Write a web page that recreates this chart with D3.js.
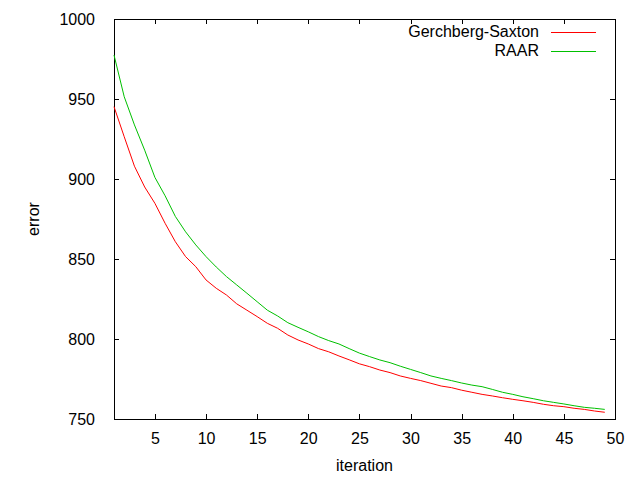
<!DOCTYPE html>
<html>
<head>
<meta charset="utf-8">
<script src="https://cdn.jsdelivr.net/npm/d3@7"></script>
<style>
  html, body { margin: 0; padding: 0; background: #fff; }
  text { font-family: "Liberation Sans", Arial, sans-serif; font-size: 16px; fill: #000; }
</style>
</head>
<body>
<svg id="chart" width="640" height="480"></svg>
<script>
const iterations = d3.range(1, 50);
const gerchbergSaxton = [945.2, 926.4, 908.0, 895.0, 884.8, 872.3, 860.8, 851.5, 845.2, 836.9,
  831.7, 827.5, 822.0, 818.0, 814.0, 809.8, 806.7, 802.5, 799.4, 796.9,
  794.0, 792.0, 789.4, 787.0, 784.5, 782.7, 780.6, 779.0, 776.9, 775.4,
  774.0, 772.3, 770.6, 769.6, 768.0, 766.7, 765.4, 764.4, 763.3, 762.3,
  761.4, 760.4, 759.2, 758.3, 757.7, 756.7, 756.0, 755.0, 754.2];
const raar = [977.5, 951.4, 933.8, 918.0, 901.0, 889.5, 876.6, 867.0, 858.8, 851.5,
  845.0, 839.0, 833.8, 828.6, 823.3, 818.0, 814.4, 810.2, 807.3, 804.5,
  801.5, 799.0, 796.9, 794.0, 791.2, 789.0, 786.9, 785.2, 783.0, 781.0,
  779.0, 776.9, 775.4, 774.0, 772.5, 771.2, 770.2, 768.5, 766.7, 765.4,
  763.9, 762.7, 761.4, 760.4, 759.4, 758.3, 757.3, 756.7, 756.0];
const xTicks = [5, 10, 15, 20, 25, 30, 35, 40, 45, 50];
const yTicks = [750, 800, 850, 900, 950, 1000];
const seriesNames = ["Gerchberg-Saxton", "RAAR"];
const seriesColors = ["#ff0000", "#00c000"];

const L = 114, R = 615, T = 19, B = 419;
const svg = d3.select("#chart");
const x = d3.scaleLinear().domain([1, 50]).range([L, R]);
const y = d3.scaleLinear().domain([750, 1000]).range([B, T]);
const fmt = d3.format("d");

// axes with inward ticks on all four sides
const tickLen = 5;
svg.append("g").attr("transform", `translate(0,${B})`)
  .call(d3.axisBottom(x).tickValues(xTicks).tickFormat(fmt).tickSizeInner(-tickLen).tickSizeOuter(0).tickPadding(14))
  .call(g => g.select(".domain").remove());
svg.append("g").attr("transform", `translate(0,${T})`)
  .call(d3.axisTop(x).tickValues(xTicks).tickSizeInner(-tickLen).tickSizeOuter(0).tickFormat(""))
  .call(g => g.select(".domain").remove());
svg.append("g").attr("transform", `translate(${L},0)`)
  .call(d3.axisLeft(y).tickValues(yTicks).tickFormat(fmt).tickSizeInner(-tickLen).tickSizeOuter(0).tickPadding(19))
  .call(g => g.select(".domain").remove());
svg.append("g").attr("transform", `translate(${R},0)`)
  .call(d3.axisRight(y).tickValues(yTicks).tickSizeInner(-tickLen).tickSizeOuter(0).tickFormat(""))
  .call(g => g.select(".domain").remove());
svg.selectAll(".tick line").attr("stroke", "#000").attr("shape-rendering", "crispEdges");
svg.selectAll(".tick text").style("font-size", "16px").style("font-family", "Liberation Sans, Arial, sans-serif");

// border
svg.append("rect").attr("x", L).attr("y", T).attr("width", R - L).attr("height", B - T)
  .attr("fill", "none").attr("stroke", "#000").attr("stroke-width", 1).attr("shape-rendering", "crispEdges");

// lines
const line = d3.line().x((d, i) => x(iterations[i])).y(d => y(d));
[gerchbergSaxton, raar].forEach((s, k) => {
  svg.append("path").datum(s).attr("d", line).attr("fill", "none")
    .attr("stroke", seriesColors[k]).attr("stroke-width", 1);
});

// legend
seriesNames.forEach((name, k) => {
  const ly = 32 + k * 19;
  svg.append("text").attr("x", 539).attr("y", ly + 5).attr("text-anchor", "end").text(name);
  svg.append("line").attr("x1", 551).attr("x2", 596).attr("y1", ly + 0.5).attr("y2", ly + 0.5)
    .attr("stroke", seriesColors[k]).attr("stroke-width", 1);
});

// axis titles
svg.append("text").attr("x", (L + R) / 2).attr("y", 471).attr("text-anchor", "middle").text("iteration");
svg.append("text").attr("transform", `translate(39,219) rotate(-90)`).attr("text-anchor", "middle").text("error");
</script>
</body>
</html>
